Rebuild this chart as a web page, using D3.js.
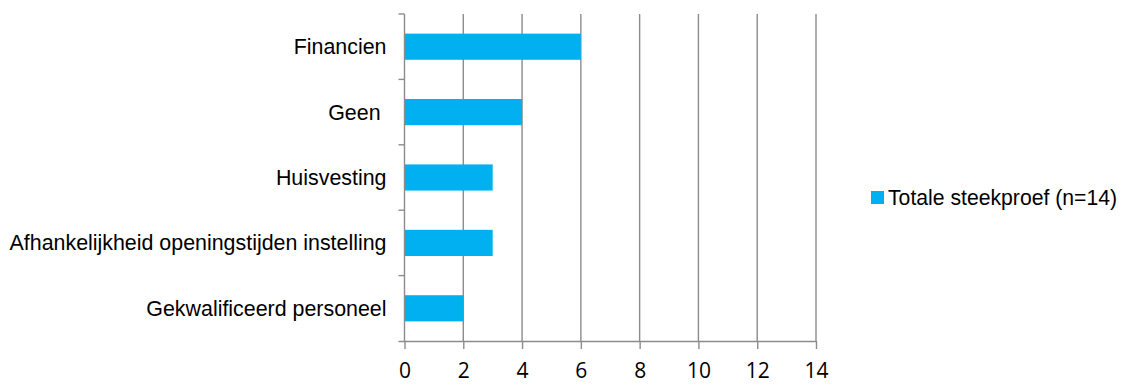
<!DOCTYPE html>
<html>
<head>
<meta charset="utf-8">
<script src="https://cdn.jsdelivr.net/npm/d3@7"></script>
<style>
  html, body { margin: 0; padding: 0; background: #fff; }
  svg { display: block; }
</style>
</head>
<body>
<svg id="chart" width="1122" height="385"></svg>
<script>
// Knelpunten, totale steekproef (n=14)
const categories = [
  "Financien",
  "Geen ",
  "Huisvesting",
  "Afhankelijkheid openingstijden instelling",
  "Gekwalificeerd personeel"
];
const values = [6, 4, 3, 3, 2];
const xTicks = [0, 2, 4, 6, 8, 10, 12, 14];
const seriesName = "Totale steekproef (n=14)";

const svg = d3.select("#chart");
const margin = { left: 404.5, right: 1122 - 816, top: 14, bottom: 385 - 341 };
const plotW = 1122 - margin.left - margin.right;
const plotH = 385 - margin.top - margin.bottom;

const fontFamily = "'Liberation Sans', Arial, sans-serif";
const barColor = "#00B0F0";
const gridColor = "#8c8c8c";

const x = d3.scaleLinear().domain([0, 14]).range([margin.left, margin.left + plotW]);
const y = d3.scaleBand().domain(categories).range([margin.top, margin.top + plotH])
  .paddingInner(0.6).paddingOuter(0.3);
const yEdge = d3.scaleLinear().domain([0, categories.length]).range([margin.top, margin.top + plotH]);

// vertical gridlines
svg.append("g")
  .selectAll("line")
  .data(xTicks.filter(d => d > 0))
  .join("line")
  .attr("x1", d => x(d)).attr("x2", d => x(d))
  .attr("y1", margin.top).attr("y2", margin.top + plotH)
  .attr("stroke", gridColor).attr("stroke-width", 1.4);

// bars
svg.append("g")
  .selectAll("rect")
  .data(values)
  .join("rect")
  .attr("x", x(0))
  .attr("y", (d, i) => y(categories[i]))
  .attr("width", d => x(d) - x(0))
  .attr("height", y.bandwidth())
  .attr("fill", barColor);

// x axis
const xAxis = svg.append("g")
  .attr("transform", `translate(0,${margin.top + plotH})`)
  .call(d3.axisBottom(x).tickValues(xTicks).tickSize(8).tickSizeOuter(0));
xAxis.select(".domain").attr("stroke", gridColor).attr("stroke-width", 1.4)
  .attr("d", `M${margin.left - 6},0.5H${x(14)}`);
xAxis.selectAll(".tick line").attr("stroke", gridColor).attr("stroke-width", 1.4);
xAxis.selectAll(".tick text")
  .attr("y", 37)
  .attr("dy", null)
  .attr("fill", "#000")
  .style("font-family", "'Open Sans', sans-serif")
  .style("font-size", "21px");

// y axis line with ticks at category boundaries
const yAxis = svg.append("g");
yAxis.append("line")
  .attr("x1", x(0)).attr("x2", x(0))
  .attr("y1", margin.top).attr("y2", margin.top + plotH)
  .attr("stroke", gridColor).attr("stroke-width", 1.4);
yAxis.selectAll("line.tick")
  .data(d3.range(categories.length))
  .join("line")
  .attr("class", "tick")
  .attr("x1", x(0) - 6).attr("x2", x(0))
  .attr("y1", d => yEdge(d)).attr("y2", d => yEdge(d))
  .attr("stroke", gridColor).attr("stroke-width", 1.4);

// category labels
svg.append("g")
  .selectAll("text")
  .data(categories)
  .join("text")
  .attr("x", x(0) - 18)
  .attr("y", d => y(d) + y.bandwidth() / 2)
  .attr("dy", "0.35em")
  .attr("text-anchor", "end")
  .attr("xml:space", "preserve")
  .style("white-space", "pre")
  .style("font-family", fontFamily)
  .style("font-size", "21.4px")
  .attr("fill", "#000")
  .text(d => d);

// legend
const legend = svg.append("g").attr("transform", "translate(871,191)");
legend.append("rect").attr("width", 13).attr("height", 13).attr("fill", barColor);
legend.append("text")
  .attr("x", 17).attr("y", 6.5).attr("dy", "0.35em")
  .style("font-family", fontFamily)
  .style("font-size", "21.2px")
  .attr("fill", "#000")
  .text(seriesName);
</script>
</body>
</html>
